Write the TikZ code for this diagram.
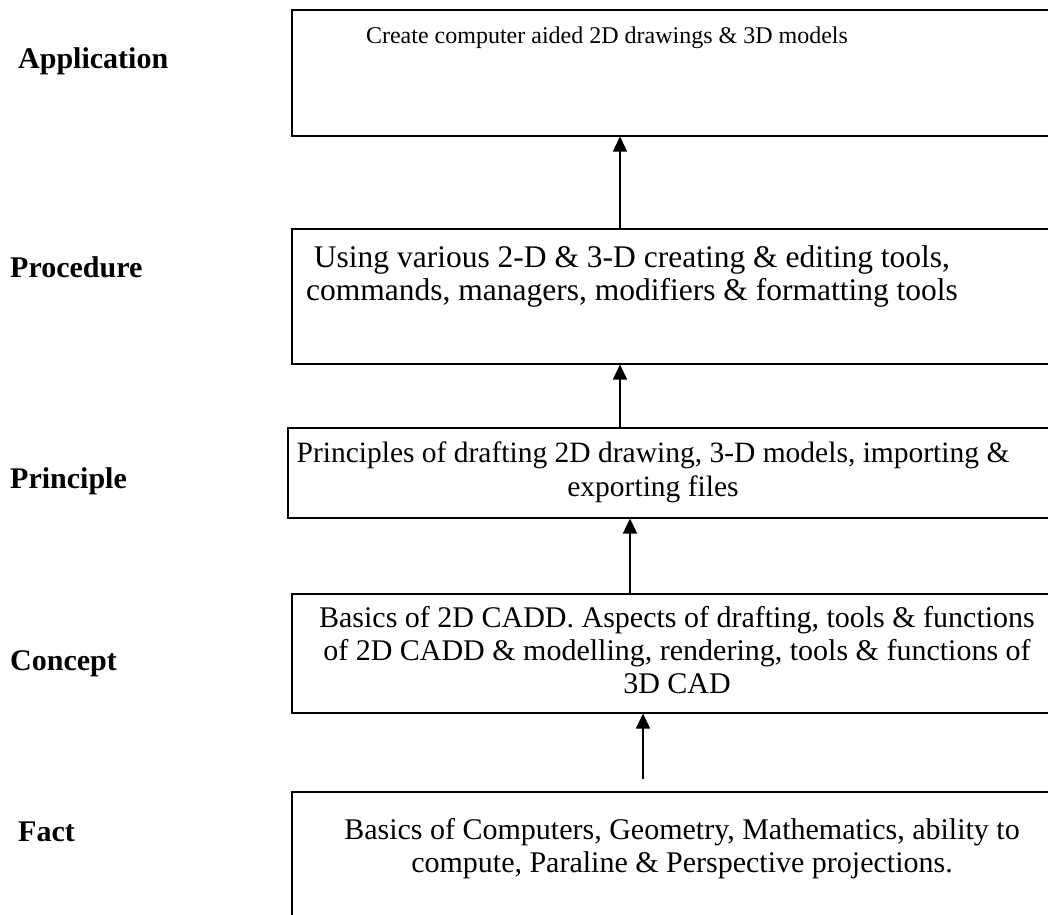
\documentclass[tikz,border=0pt]{standalone}
\usepackage{fontspec}
\setmainfont{Liberation Serif}
\usetikzlibrary{arrows.meta}
\begin{document}
\begin{tikzpicture}[x=1pt,y=-1pt,
  box/.style={draw, line width=1.5pt, inner sep=0pt, anchor=north west, minimum width=820pt},
  txt/.style={font=\fontsize{30}{33}\selectfont, align=center, inner sep=0pt},
  lbl/.style={font=\fontsize{30}{33}\selectfont\bfseries, inner sep=0pt, anchor=base west},
  arr/.style={line width=1.5pt, -{Triangle[length=15pt,width=14pt]}}]
\useasboundingbox (0,0) rectangle (1048,914);
\clip (0,0) rectangle (1048,914);
% boxes
\node[box, minimum height=126pt] (app)  at (291,9)   {};
\node[box, minimum height=135pt] (proc) at (291,228) {};
\node[box, minimum height=90pt]  (prin) at (287,427) {};
\node[box, minimum height=119pt] (conc) at (291,593) {};
\node[box, minimum height=200pt] (fact) at (291,791) {};
% box texts
\node[txt, font=\fontsize{24}{28}\selectfont] (t1) at (607,38)  {Create computer aided 2D drawings \& 3D models};
\node[txt, font=\fontsize{31.5}{33}\selectfont] (t2) at (632,276) {Using various 2-D \& 3-D creating \& editing tools,\\commands, managers, modifiers \& formatting tools};
\node[txt, font=\fontsize{29.5}{34}\selectfont] (t3) at (653,472) {Principles of drafting 2D drawing, 3-D models, importing \&\\exporting files};
\node[txt] (t4) at (677,650) {Basics of 2D CADD. Aspects of drafting, tools \& functions\\of 2D CADD \& modelling, rendering, tools \& functions of\\3D CAD};
\node[txt] (t5) at (682,849) {Basics of Computers, Geometry, Mathematics, ability to\\compute, Paraline \& Perspective projections.};
% level labels
\node[lbl] (l1) at (18,68)  {Application};
\node[lbl] (l2) at (10,277) {Procedure};
\node[lbl] (l3) at (10,488) {Principle};
\node[lbl] (l4) at (10,670) {Concept};
\node[lbl] (l5) at (18,841) {Fact};
% arrows
\coordinate (c1) at (620,0);
\coordinate (c2) at (630,0);
\coordinate (f0) at (643,779);
\draw[arr] (c1 |- proc.north) -- (c1 |- app.south);
\draw[arr] (c1 |- prin.north) -- (c1 |- proc.south);
\draw[arr] (c2 |- conc.north) -- (c2 |- prin.south);
\draw[arr] (f0) -- (f0 |- conc.south);
\end{tikzpicture}
\end{document}
